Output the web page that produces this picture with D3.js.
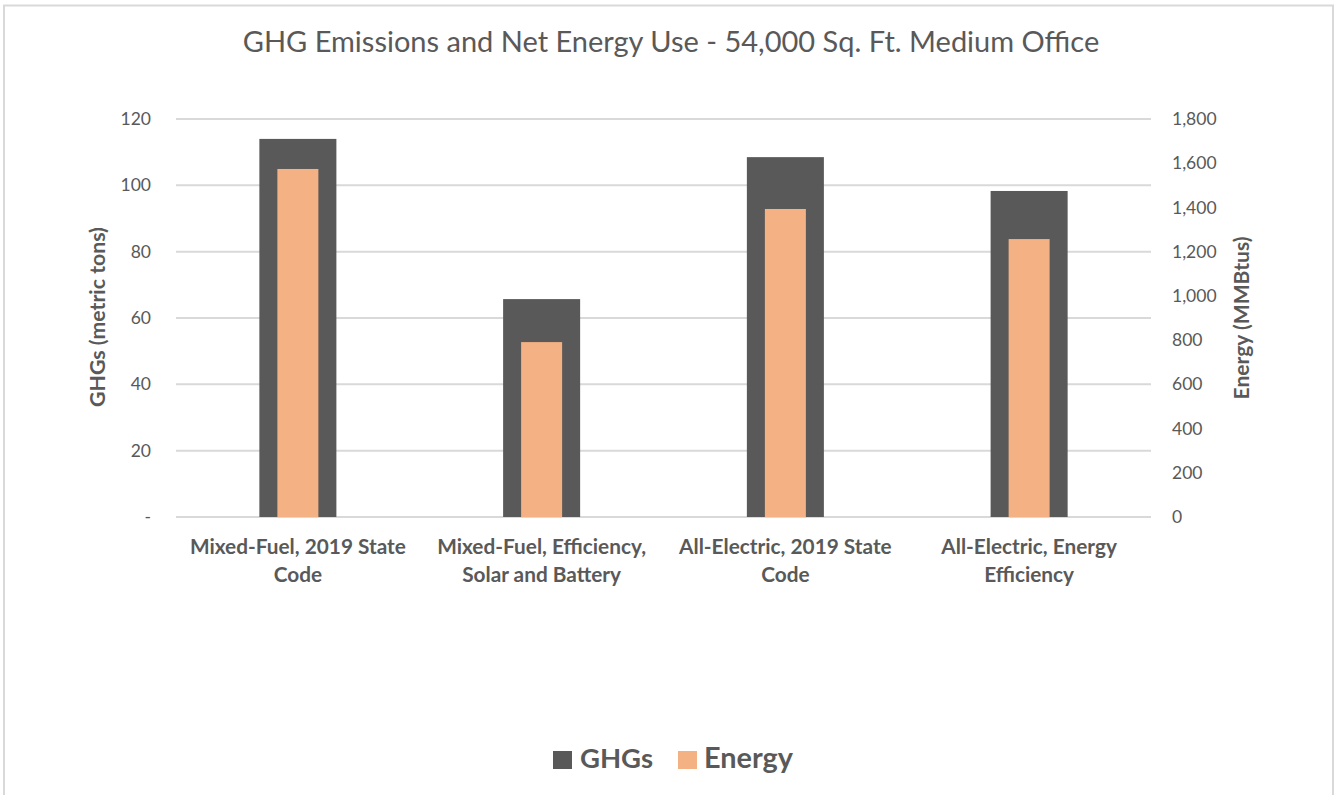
<!DOCTYPE html>
<html>
<head>
<meta charset="utf-8">
<script src="https://cdn.jsdelivr.net/npm/d3@7"></script>
<style>
  body { margin:0; background:#fff; }
  text { font-family: Lato, "Open Sans", sans-serif; fill:#595959; }
</style>
</head>
<body>
<script>
// ---- data ----
var categories = [
  ["Mixed-Fuel, 2019 State", "Code"],
  ["Mixed-Fuel, Efficiency,", "Solar and Battery"],
  ["All-Electric, 2019 State", "Code"],
  ["All-Electric, Energy", "Efficiency"]
];
var ghgs   = [114.0, 65.7, 108.5, 98.3];      // metric tons (left axis)
var energy = [1574, 791, 1393, 1257];         // MMBtus (right axis)
var leftTicks  = [0, 20, 40, 60, 80, 100, 120];
var rightTicks = [0, 200, 400, 600, 800, 1000, 1200, 1400, 1600, 1800];

var W = 1336, H = 795;
var dark = "#595959", peach = "#F4B183", grid = "#d9d9d9";

var svg = d3.select("body").append("svg").attr("width", W).attr("height", H);

// resize a text node so it spans the width measured on the reference
function fitWidth(sel, size, target){
   sel.style("font-size", size + "px");
   var w = sel.node().getComputedTextLength();
   sel.style("font-size", (size * target / w) + "px");
   return size * target / w;
}

// outer frame (only top/left/right visible in the picture)
svg.append("path")
   .attr("d", "M4,795 L4,5.5 L1333,5.5 L1333,795")
   .attr("fill", "none").attr("stroke", grid).attr("stroke-width", 2);

// scales
var x = d3.scaleBand().domain(d3.range(categories.length))
          .range([176, 1151]).paddingInner(0.684).paddingOuter(0.342);
var yL = d3.scaleLinear().domain([0, 120]).range([517, 119]);
var yR = d3.scaleLinear().domain([0, 1800]).range([517, 119]);

// gridlines
svg.append("g").selectAll("line").data(leftTicks).join("line")
   .attr("x1", 176).attr("x2", 1151)
   .attr("y1", function(d){ return yL(d); }).attr("y2", function(d){ return yL(d); })
   .attr("stroke", grid).attr("stroke-width", 2);

// left axis
var axL = svg.append("g").attr("transform", "translate(151,0)")
   .call(d3.axisLeft(yL).tickValues(leftTicks).tickSize(0).tickPadding(0)
          .tickFormat(function(d){ return d === 0 ? "-" : d; }));
axL.select(".domain").remove();
axL.selectAll("text").style("font-size", "17.5px").attr("fill", dark)
   .style("font-family", "Lato, sans-serif");

// right axis
var axR = svg.append("g").attr("transform", "translate(1172,0)")
   .call(d3.axisRight(yR).tickValues(rightTicks).tickSize(0).tickPadding(0)
          .tickFormat(d3.format(",")));
axR.select(".domain").remove();
axR.selectAll("text").style("font-size", "17.5px").attr("fill", dark)
   .style("font-family", "Lato, sans-serif");

// GHG bars (wide, dark)
svg.append("g").selectAll("rect").data(ghgs).join("rect")
   .attr("x", function(d,i){ return x(i); })
   .attr("width", x.bandwidth())
   .attr("y", function(d){ return yL(d); })
   .attr("height", function(d){ return yL(0) - yL(d); })
   .attr("fill", dark);

// Energy bars (narrow, peach) on right axis
var ew = 41;
svg.append("g").selectAll("rect").data(energy).join("rect")
   .attr("x", function(d,i){ return x(i) + (x.bandwidth() - ew) / 2; })
   .attr("width", ew)
   .attr("y", function(d){ return yR(d); })
   .attr("height", function(d){ return yR(0) - yR(d); })
   .attr("fill", peach);

// category labels -- size taken from the first label's width (216px)
var probe = svg.append("text").style("font-weight", "bold").text(categories[0][0]);
var catSize = fitWidth(probe, 18, 216);
probe.remove();
var cat = svg.append("g").selectAll("text").data(categories).join("text")
   .attr("text-anchor", "middle")
   .style("font-size", catSize + "px").style("font-weight", "bold");
cat.each(function(lines, i){
   var t = d3.select(this), cx = x(i) + x.bandwidth() / 2;
   lines.forEach(function(s, k){
      t.append("tspan").attr("x", cx).attr("y", 554 + k * 28).text(s);
   });
});

// axis titles
var tl = svg.append("text")
   .attr("transform", "translate(105,317) rotate(-90)")
   .attr("text-anchor", "middle").style("font-weight", "bold")
   .text("GHGs (metric tons)");
fitWidth(tl, 17, 180);
var tr = svg.append("text")
   .attr("transform", "translate(1249,318) rotate(-90)")
   .attr("text-anchor", "middle").style("font-weight", "bold")
   .text("Energy (MMBtus)");
fitWidth(tr, 17, 163);

// title, stretched to the width seen in the picture
var title = svg.append("text")
   .attr("x", 671).attr("y", 52).attr("text-anchor", "middle")
   .text("GHG Emissions and Net Energy Use - 54,000 Sq. Ft. Medium Office");
fitWidth(title, 26, 857);

// legend
var legend = [["GHGs", dark, 553, 580, 73], ["Energy", peach, 678, 704, 89]];
legend.forEach(function(l){
   svg.append("rect").attr("x", l[2]).attr("y", 751).attr("width", 19).attr("height", 18).attr("fill", l[1]);
   var t = svg.append("text").attr("x", l[3]).attr("y", 768)
      .style("font-weight", "bold").text(l[0]);
   fitWidth(t, 26, l[4]);
});
</script>
</body>
</html>
